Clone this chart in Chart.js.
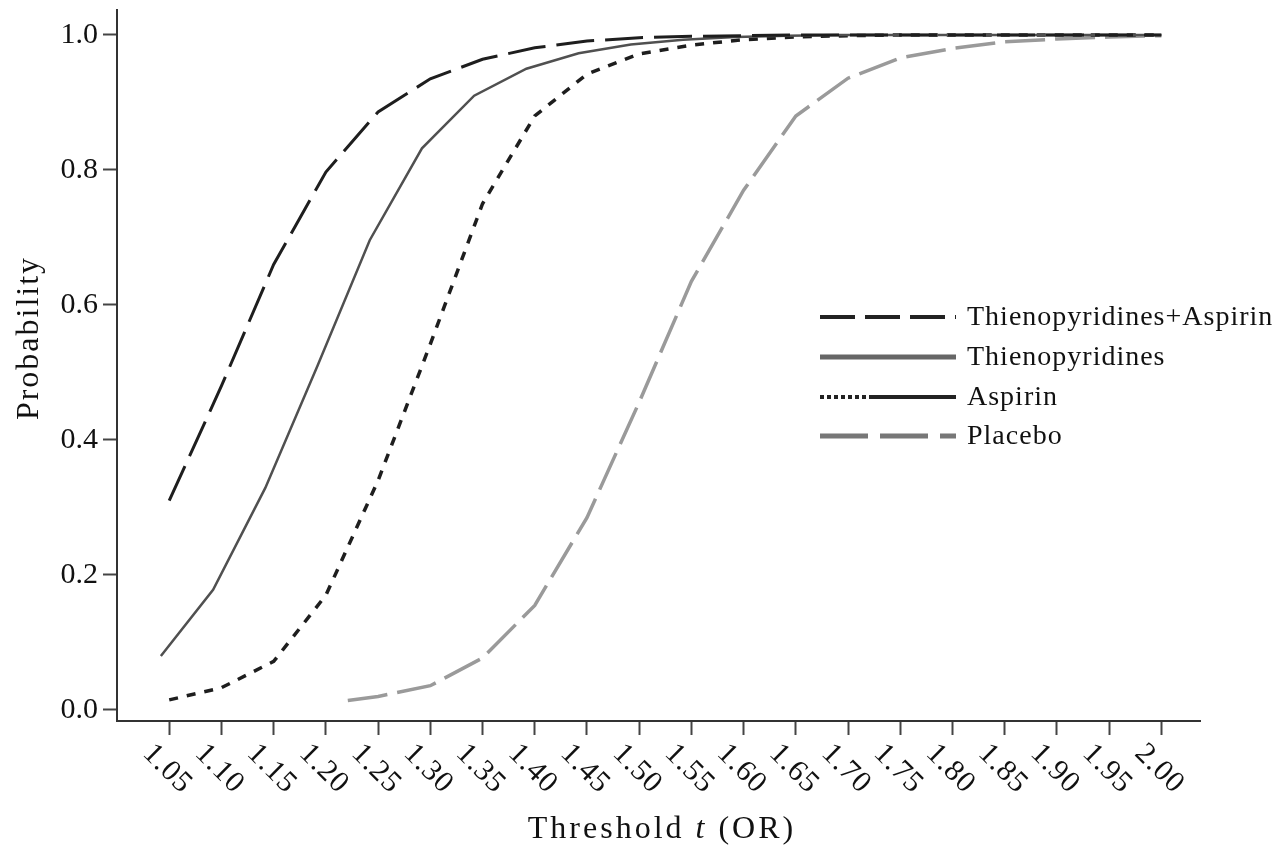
<!DOCTYPE html>
<html>
<head>
<meta charset="utf-8">
<title>Probability by threshold</title>
<script src="https://cdn.jsdelivr.net/npm/chart.js@4.4.1/dist/chart.umd.min.js"></script>
<style>
  body { margin: 0; background: #fff; }
  #wrap { width: 1275px; height: 850px; position: relative; }
</style>
</head>
<body>
<div id="wrap"><canvas id="probChart"></canvas></div>
<script>
// tick labels on the threshold axis
const xTickLabels = ['1.05','1.10','1.15','1.20','1.25','1.30','1.35','1.40','1.45','1.50',
                     '1.55','1.60','1.65','1.70','1.75','1.80','1.85','1.90','1.95','2.00'];
const yTickValues = [0, 0.2, 0.4, 0.6, 0.8, 1.0];

// Thienopyridines+Aspirin
const tpaX = [1.05,1.10,1.15,1.20,1.25,1.30,1.35,1.40,1.45,1.50,1.55,1.60,1.65,1.70,1.75,1.80,1.85,1.90,1.95,2.00];
const tpaY = [0.31,0.48,0.66,0.797,0.886,0.935,0.964,0.981,0.991,0.996,0.998,0.999,1.0,1.0,1.0,1.0,1.0,1.0,1.0,1.0];

// Thienopyridines
const thX = [1.042,1.092,1.142,1.192,1.242,1.292,1.342,1.392,1.442,1.492,1.542,1.592,1.642,1.692,1.742,1.792,1.842,1.892,1.942,2.00];
const thY = [0.08,0.178,0.329,0.51,0.696,0.832,0.91,0.95,0.973,0.986,0.993,0.997,0.999,1.0,1.0,1.0,1.0,1.0,1.0,1.0];

// Aspirin
const asX = [1.05,1.10,1.15,1.20,1.25,1.30,1.35,1.40,1.45,1.50,1.55,1.60,1.65,1.70,1.75,1.80,1.85,1.90,1.95,2.00];
const asY = [0.015,0.033,0.072,0.17,0.34,0.542,0.75,0.88,0.942,0.972,0.985,0.993,0.997,0.999,1.0,1.0,1.0,1.0,1.0,1.0];

// Placebo
const plX = [1.221,1.25,1.30,1.35,1.40,1.45,1.50,1.55,1.60,1.65,1.70,1.75,1.80,1.85,1.90,1.95,2.00];
const plY = [0.014,0.02,0.036,0.077,0.155,0.285,0.456,0.635,0.77,0.88,0.936,0.966,0.98,0.99,0.994,0.997,0.999];

const seriesNames = ['Thienopyridines+Aspirin', 'Thienopyridines', 'Aspirin', 'Placebo'];

const pts = (xs, ys) => xs.map((x, i) => ({ x: x, y: ys[i] }));

Chart.defaults.font.family = '"Liberation Serif", "DejaVu Serif", serif';
Chart.defaults.color = '#111';

// legend drawn by hand so the samples look like the printed ones
const legendPlugin = {
    id: 'sampleLegend',
    afterDraw(chart) {
        const ctx = chart.ctx;
        const items = [
            { y: 317, color: '#222', width: 4, dash: [35, 10] },
            { y: 357, color: '#666', width: 5, dash: [] },
            { y: 397, color: '#222', width: 4, dash: [4, 3], tail: true },
            { y: 436, color: '#777', width: 5, dash: [48, 12] }
        ];
        ctx.save();
        items.forEach((it, i) => {
            ctx.strokeStyle = it.color;
            ctx.lineWidth = it.width;
            ctx.lineCap = 'butt';
            ctx.setLineDash(it.dash);
            ctx.beginPath();
            ctx.moveTo(820, it.y);
            ctx.lineTo(it.tail ? 870 : 956, it.y);
            ctx.stroke();
            if (it.tail) {
                ctx.setLineDash([]);
                ctx.beginPath();
                ctx.moveTo(870, it.y);
                ctx.lineTo(956, it.y);
                ctx.stroke();
            }
            ctx.setLineDash([]);
            ctx.fillStyle = '#111';
            ctx.font = '28px "Liberation Serif"';
            ctx.letterSpacing = '1px';
            ctx.textAlign = 'left';
            ctx.textBaseline = 'middle';
            ctx.fillText(seriesNames[i], 967, it.y + 1);
        });
        ctx.restore();
    }
};

// rotated x labels and the two axis titles
const labelPlugin = {
    id: 'axisLabels',
    afterDraw(chart) {
        const ctx = chart.ctx;
        const xs = chart.scales.x;
        ctx.save();
        ctx.fillStyle = '#111';
        ctx.font = '30px "Liberation Serif"';
        ctx.letterSpacing = '1px';
        ctx.textAlign = 'center';
        ctx.textBaseline = 'middle';
        xTickLabels.forEach(lab => {
            const px = xs.getPixelForValue(parseFloat(lab));
            ctx.save();
            ctx.translate(px - 2, 769);
            ctx.rotate(Math.PI / 4);
            ctx.fillText(lab, 0, 0);
            ctx.restore();
        });

        // y title
        ctx.font = '32px "Liberation Serif"';
        ctx.letterSpacing = '2px';
        ctx.save();
        ctx.translate(30, 338);
        ctx.rotate(-Math.PI / 2);
        ctx.fillText('Probability', 0, 0);
        ctx.restore();

        // x title with italic t
        ctx.letterSpacing = '3px';
        const parts = [['Threshold ', ''], ['t', 'italic '], [' (OR)', '']];
        let total = 0;
        parts.forEach(p => { ctx.font = p[1] + '32px "Liberation Serif"'; total += ctx.measureText(p[0]).width; });
        let x = 662 - total / 2;
        ctx.textAlign = 'left';
        parts.forEach(p => {
            ctx.font = p[1] + '32px "Liberation Serif"';
            ctx.fillText(p[0], x, 830);
            x += ctx.measureText(p[0]).width;
        });
        ctx.restore();
    }
};

const ctx = document.getElementById('probChart').getContext('2d');

const probChart = new Chart(ctx, {
    type: 'line',
    data: {
        datasets: [
            {
                label: seriesNames[0],
                data: pts(tpaX, tpaY),
                borderColor: '#1e1e1e',
                borderWidth: 3,
                borderDash: [38, 11]
            },
            {
                label: seriesNames[1],
                data: pts(thX, thY),
                borderColor: '#505050',
                borderWidth: 2.5,
                borderDash: []
            },
            {
                label: seriesNames[2],
                data: pts(asX, asY),
                borderColor: '#1e1e1e',
                borderWidth: 3.5,
                borderDash: [9, 9]
            },
            {
                label: seriesNames[3],
                data: pts(plX, plY),
                borderColor: '#9a9a9a',
                borderWidth: 3.5,
                borderDash: [40, 10]
            }
        ]
    },
    options: {
        responsive: true,
        maintainAspectRatio: false,
        animation: false,
        layout: { padding: { top: 10, right: 75, left: 0, bottom: 0 } },
        elements: {
            line: { tension: 0, fill: false, borderCapStyle: 'butt' },
            point: { radius: 0, hoverRadius: 0 }
        },
        scales: {
            x: {
                type: 'linear',
                min: 1.0,
                max: 2.037,
                afterBuildTicks: s => { s.ticks = xTickLabels.map(l => ({ value: parseFloat(l) })); },
                afterFit: s => { s.height = 129; s.paddingLeft = 0; s.paddingRight = 0; },
                ticks: { color: 'rgba(0,0,0,0)', autoSkip: false, maxRotation: 0 },
                grid: { drawOnChartArea: false, drawTicks: true, tickLength: 14, tickColor: '#444', tickWidth: 2 },
                border: { display: true, color: '#333', width: 2 }
            },
            y: {
                min: -0.0163,
                max: 1.037,
                afterBuildTicks: s => { s.ticks = yTickValues.map(v => ({ value: v })); },
                afterFit: s => { s.width = 117; s.paddingTop = 0; s.paddingBottom = 0; },
                ticks: {
                    callback: v => v.toFixed(1),
                    font: { size: 30 },
                    color: '#111',
                    padding: 5
                },
                grid: { drawOnChartArea: false, drawTicks: true, tickLength: 14, tickColor: '#444', tickWidth: 2 },
                border: { display: true, color: '#333', width: 2 }
            }
        },
        plugins: {
            legend: { display: false },
            tooltip: { enabled: false }
        }
    },
    plugins: [legendPlugin, labelPlugin]
});
</script>
</body>
</html>
